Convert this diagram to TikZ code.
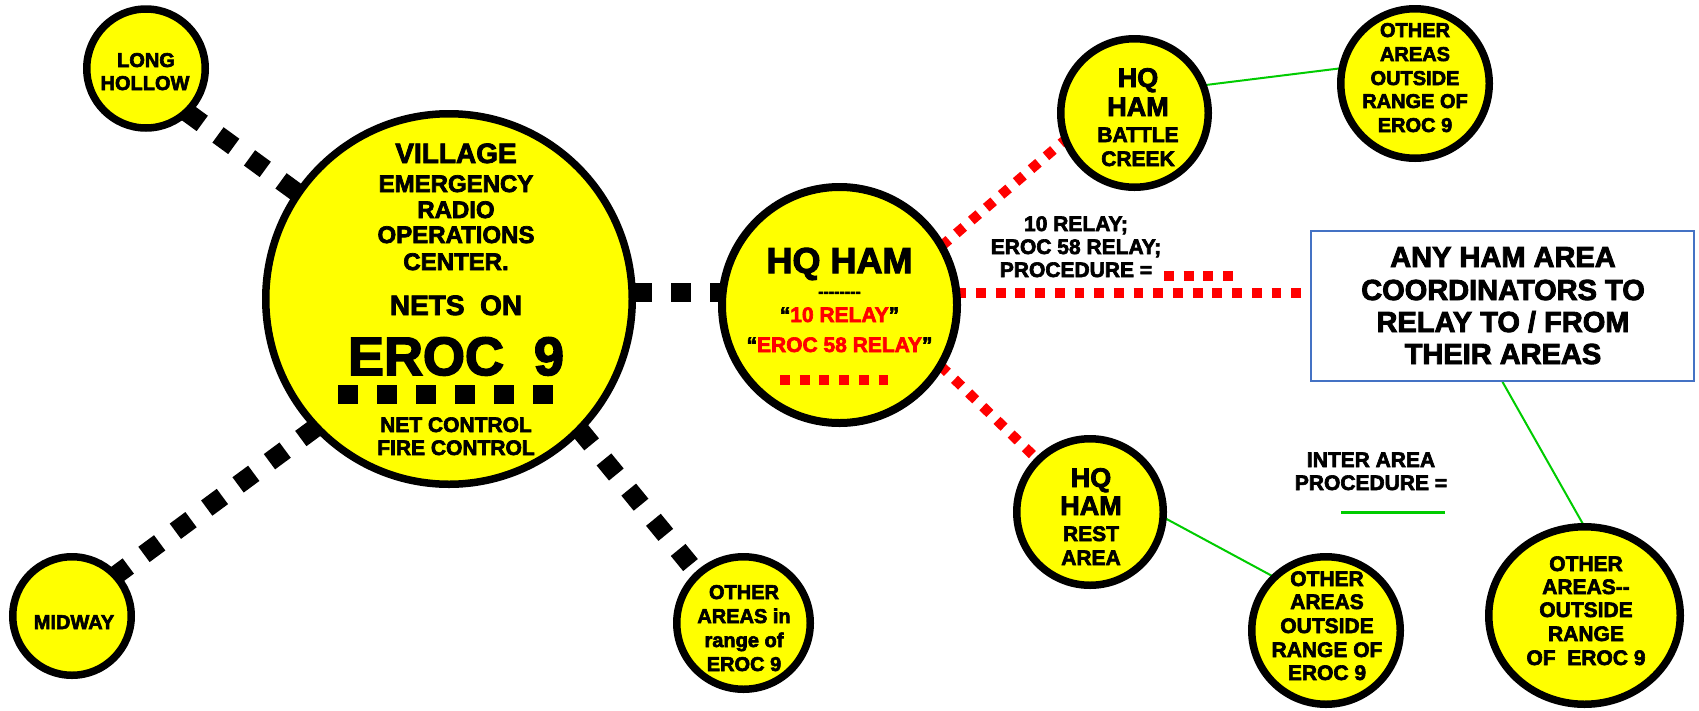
\documentclass[tikz,border=0pt]{standalone}
\usepackage{fontspec}
\setmainfont{Liberation Sans}[BoldFeatures={FakeBold=3}]
\usetikzlibrary{shapes.geometric}
\pgfdeclarelayer{bg}
\pgfsetlayers{bg,main}
\definecolor{ylw}{RGB}{255,255,0}
\definecolor{grn}{RGB}{0,204,0}
\definecolor{bluebox}{RGB}{68,114,196}
\definecolor{redd}{RGB}{255,0,0}
\newcommand\txtline[4]{\node[txt] (#1) at (#2) {\fontsize{#3}{#3}\selectfont #4};}
\begin{document}
\begin{tikzpicture}[x=1pt,y=-1pt,
  bubble/.style={ellipse, draw=black, line width=7.5pt, fill=ylw, inner sep=0pt, outer sep=0pt},
  txt/.style={anchor=base, inner sep=0pt, outer sep=0pt, font=\bfseries},
  blk/.style={line width=19pt, dash pattern=on 19.5pt off 19.5pt, black},
  reddot/.style={line width=10pt, dash pattern=on 9.8pt off 9.9pt, redd},
  grnline/.style={line width=2pt, grn}]
\useasboundingbox (0,0) rectangle (1699,710);

% circles
\node[bubble, minimum width=366.5pt, minimum height=370.5pt] (v) at (449,299) {};
\node[bubble, minimum width=118.5pt, minimum height=119pt] (lh) at (146,68.5) {};
\node[bubble, minimum width=118.5pt, minimum height=118.5pt] (mw) at (72,616) {};
\node[bubble, minimum width=133.5pt, minimum height=132.5pt] (oir) at (743.5,623) {};
\node[bubble, line width=8pt, minimum width=235pt, minimum height=236pt] (hq) at (839.5,305) {};
\node[bubble, minimum width=147.5pt, minimum height=148.5pt] (bc) at (1134.5,113) {};
\node[bubble, minimum width=148.5pt, minimum height=149.5pt] (tr) at (1415,83.5) {};
\node[bubble, minimum width=146.5pt, minimum height=146.5pt] (ra) at (1090,512) {};
\node[bubble, minimum width=148.5pt, minimum height=147.5pt] (mo) at (1326,630.5) {};
\node[bubble, minimum width=191.5pt, minimum height=177.5pt] (ro) at (1584.5,615.5) {};
\node[draw=bluebox, line width=1.8pt, minimum width=383pt, minimum height=150pt, inner sep=0pt] (box) at (1502.5,306) {};

% connectors
\begin{pgfonlayer}{bg}
\fill[white] (0,0) rectangle (1699,710);
\draw[blk] (lh.313) -- (v.145);
\draw[blk] (v.224) -- (mw.43);
\draw[blk] (v.315) -- (oir.133);
\draw[blk] (v.2.5) -- (v.2.5 -| hq.west);
\draw[reddot] (hq.30) -- (bc.201);
\draw[reddot] (hq.329) -- (ra.135);
\draw[reddot] (hq.6) -- (hq.6 -| box.west);
\draw[grnline] (bc.22) -- (tr.168);
\draw[grnline] (ra.356) -- (mo.134);
\draw[grnline] (box.south) -- (ro.90);
\end{pgfonlayer}

% VILLAGE text
\txtline{v1}{456,163}{28}{VILLAGE}
\txtline{v2}{456,192}{24}{EMERGENCY}
\txtline{v3}{456,218}{24}{RADIO}
\txtline{v4}{456,243}{24}{OPERATIONS}
\txtline{v5}{456,270}{24}{CENTER.}
\txtline{v6}{456,315}{28}{NETS\ \ ON}
\txtline{v7}{456,375}{54}{EROC\ \ 9}
\draw[blk] (338,394) -- (552.5,394);
\txtline{v8}{456,432}{21}{NET CONTROL}
\txtline{v9}{456,455}{21}{FIRE CONTROL}

% small circles
\txtline{lh1}{146,67}{20}{LONG}
\txtline{lh2}{145,90}{20}{HOLLOW}
\txtline{mw1}{74,629}{20}{MIDWAY}
\txtline{oir1}{744,599}{20}{OTHER}
\txtline{oir2}{744,623}{20}{AREAS in}
\txtline{oir3}{744,647}{20}{range of}
\txtline{oir4}{744,671}{20}{EROC 9}

% HQ HAM
\txtline{hq1}{839.5,273}{36}{HQ HAM}
\txtline{hq2}{839.5,297}{16}{-{}-{}-{}-{}-{}-{}-{}-}
\txtline{hq3}{839.5,322}{21}{“\textcolor{redd}{10 RELAY}”}
\txtline{hq4}{839.5,352}{21}{“\textcolor{redd}{EROC 58 RELAY}”}
\draw[reddot] (780,379.5) -- (889.5,379.5);

% relay label
\txtline{r1}{1076,231}{21}{10 RELAY;}
\txtline{r2}{1076,254}{21}{EROC 58 RELAY;}
\txtline{r3}{1076,277}{21}{PROCEDURE =}
\draw[reddot] (1164,276) -- (1234,276);

% battle creek
\txtline{bc1}{1138,87}{27}{HQ}
\txtline{bc2}{1138,116}{27}{HAM}
\txtline{bc3}{1138,142}{21}{BATTLE}
\txtline{bc4}{1138,166}{21}{CREEK}

% top right
\txtline{tr1}{1415,37}{20}{OTHER}
\txtline{tr2}{1415,61}{20}{AREAS}
\txtline{tr3}{1415,85}{20}{OUTSIDE}
\txtline{tr4}{1415,108}{20}{RANGE OF}
\txtline{tr5}{1415,132}{20}{EROC 9}

% rest area
\txtline{ra1}{1091,487}{27}{HQ}
\txtline{ra2}{1091,515}{27}{HAM}
\txtline{ra3}{1091,541}{21}{REST}
\txtline{ra4}{1091,565}{21}{AREA}

% middle other
\txtline{mo1}{1327,586}{21}{OTHER}
\txtline{mo2}{1327,609}{21}{AREAS}
\txtline{mo3}{1327,633}{21}{OUTSIDE}
\txtline{mo4}{1327,657}{21}{RANGE OF}
\txtline{mo5}{1327,680}{21}{EROC 9}

% right other
\txtline{ro1}{1586,571}{21}{OTHER}
\txtline{ro2}{1586,594}{21}{AREAS-{}-}
\txtline{ro3}{1586,617}{21}{OUTSIDE}
\txtline{ro4}{1586,641}{21}{RANGE}
\txtline{ro5}{1586,665}{21}{OF\ \ EROC 9}

% box text
\txtline{b1}{1503,267}{29}{ANY HAM AREA}
\txtline{b2}{1503,300}{29}{COORDINATORS TO}
\txtline{b3}{1503,332}{29}{RELAY TO / FROM}
\txtline{b4}{1503,364}{29}{THEIR AREAS}

% inter area legend
\txtline{ia1}{1371,467}{21}{INTER AREA}
\txtline{ia2}{1371,490}{21}{PROCEDURE =}
\coordinate (gl1) at (1341,512);
\coordinate (gl2) at (1445,512);
\draw[grn, line width=3pt] (gl1) -- (gl2);
\end{tikzpicture}
\end{document}
